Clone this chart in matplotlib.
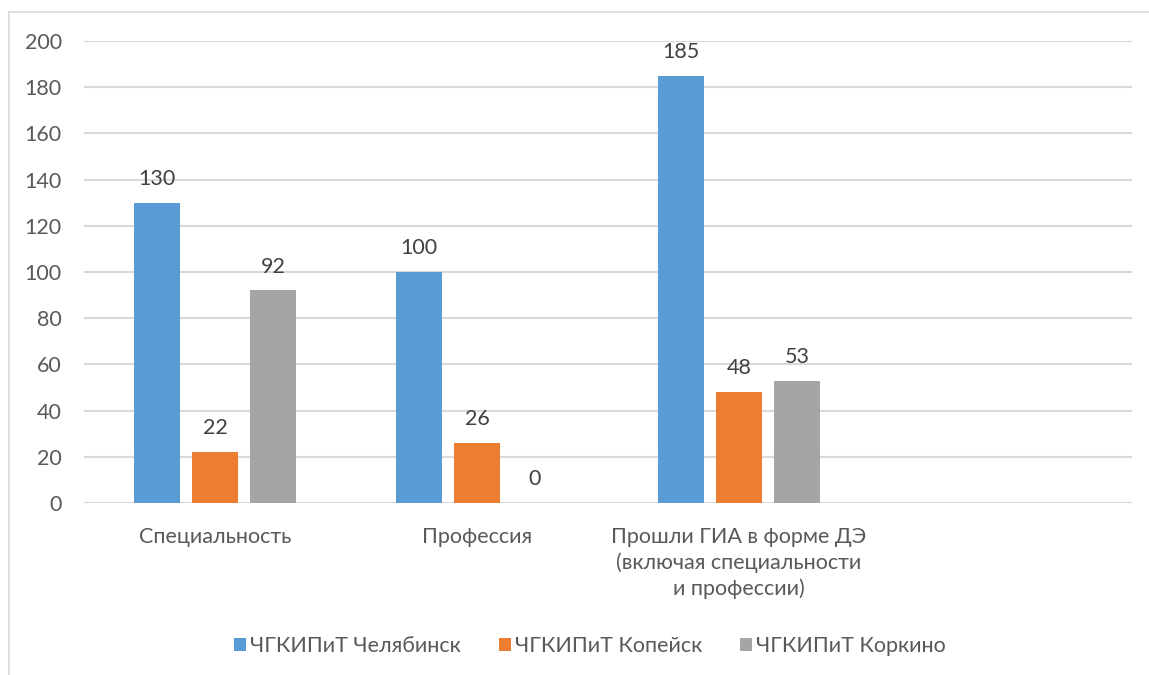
import numpy as np
import matplotlib.pyplot as plt
from matplotlib.lines import Line2D

categories = ["Специальность", "Профессия",
              "Прошли ГИА в форме ДЭ\n(включая специальности\nи профессии)", ""]
series_names = ["ЧГКИПиТ Челябинск", "ЧГКИПиТ Копейск", "ЧГКИПиТ Коркино"]
chelyabinsk = [130, 100, 185]
kopeysk = [22, 26, 48]
korkino = [92, 0, 53]
colors = ["#5b9bd5", "#ed7d31", "#a5a5a5"]
yticks = [0, 20, 40, 60, 80, 100, 120, 140, 160, 180, 200]

plt.rcParams['font.family'] = ['Lato', 'DejaVu Sans']
txt = "#595959"
fs = 15.5

fig = plt.figure(figsize=(11.49, 6.75), dpi=100)
ax = fig.add_axes([84 / 1149, 1 - 503 / 675, (1132 - 84) / 1149, (503 - 41) / 675])

x = np.arange(len(categories))
width = 0.176
step = 0.221
for i, (vals, name) in enumerate(zip([chelyabinsk, kopeysk, korkino], series_names)):
    xs = x[:len(vals)] + (i - 1) * step
    bars = ax.bar(xs, vals, width, color=colors[i], label=name, zorder=3)
    for b, v in zip(bars, vals):
        ax.annotate(str(v), (b.get_x() + b.get_width() / 2, v), xytext=(0, 10),
                    textcoords="offset points", ha="center", va="bottom",
                    fontsize=fs, color="#404040")

ax.set_xlim(-0.5, len(categories) - 0.5)
ax.set_ylim(0, 200)
ax.set_yticks(yticks)
ax.set_xticks(x)
ax.set_xticklabels(categories, linespacing=1.35)
ax.tick_params(axis="both", length=0, labelsize=fs, labelcolor=txt)
ax.tick_params(axis="y", pad=16)
ax.tick_params(axis="x", pad=17)
ax.grid(axis="y", color="#d9d9d9", linewidth=1.5, zorder=0)
for s in ax.spines.values():
    s.set_visible(False)

leg = fig.legend(loc="center", bbox_to_anchor=(590 / 1149, 1 - 646 / 675), ncol=3,
                 frameon=False, fontsize=fs, handlelength=0.55, handleheight=0.55,
                 handletextpad=0.2, columnspacing=1.75)
for t in leg.get_texts():
    t.set_color(txt)

# chart area border
fig.add_artist(Line2D([9 / 1149, 9 / 1149], [0, 1 - 12 / 675], transform=fig.transFigure,
                      color="#d9d9d9", linewidth=1.2))
fig.add_artist(Line2D([9 / 1149, 1], [1 - 12 / 675, 1 - 12 / 675], transform=fig.transFigure,
                      color="#d9d9d9", linewidth=1.2))

fig.savefig("out.png", dpi=100)
